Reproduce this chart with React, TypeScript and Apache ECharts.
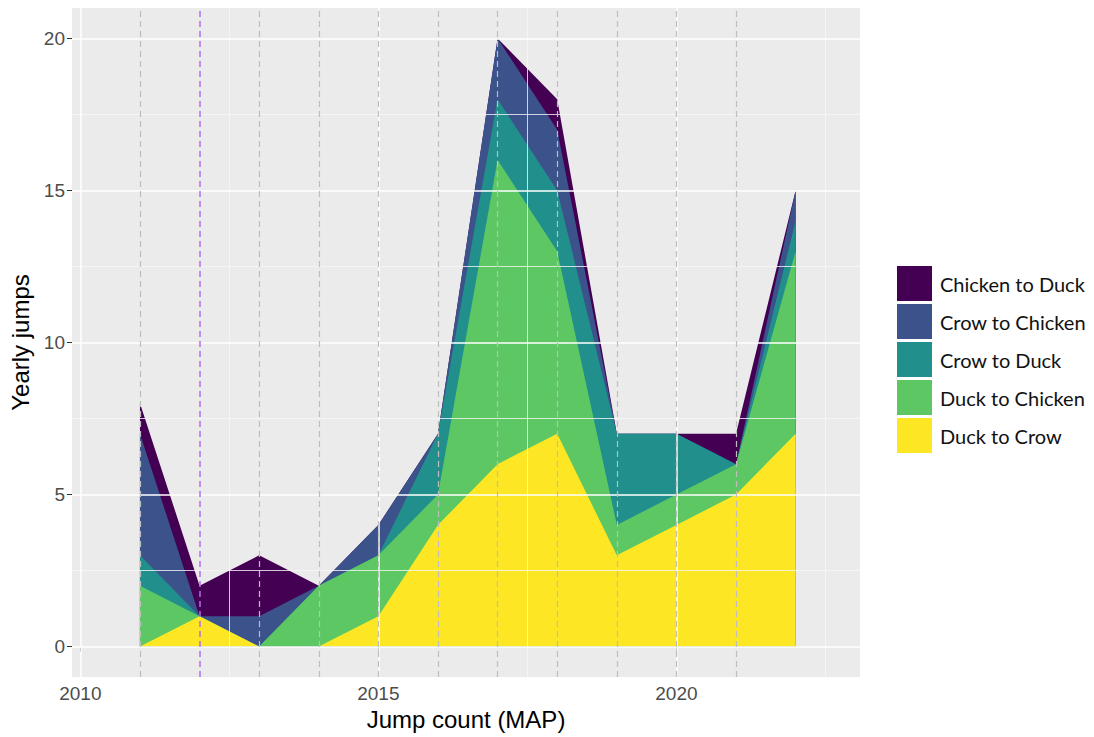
import React, { useEffect, useRef } from "react";
import * as echarts from "echarts";

const years = [2011, 2012, 2013, 2014, 2015, 2016, 2017, 2018, 2019, 2020, 2021, 2022];
const duckToCrow = [0, 1, 0, 0, 1, 4, 6, 7, 3, 4, 5, 7];
const duckToChicken = [2, 0, 0, 2, 2, 1, 10, 6, 1, 1, 1, 6];
const crowToDuck = [1, 0, 0, 0, 0, 2, 2, 2, 3, 2, 0, 1];
const crowToChicken = [4, 0, 1, 0, 1, 0, 2, 2, 0, 0, 0, 1];
const chickenToDuck = [1, 1, 2, 0, 0, 0, 0, 1, 0, 0, 1, 0];

// bottom-to-top stacking order
const seriesNames = ["Duck to Crow", "Duck to Chicken", "Crow to Duck", "Crow to Chicken", "Chicken to Duck"];
const seriesValues = [duckToCrow, duckToChicken, crowToDuck, crowToChicken, chickenToDuck];
const seriesColors = ["#FDE725", "#5DC863", "#21908C", "#3B528B", "#440154"];

const xMajor = [2010, 2015, 2020];
const xMinor = [2012.5, 2017.5, 2022.5];
const yMajor = [0, 5, 10, 15, 20];
const yMinor = [2.5, 7.5, 12.5, 17.5];
const dashedYears = [2011, 2013, 2014, 2015, 2016, 2017, 2018, 2019, 2020, 2021];
const highlightYear = [2012];

export default function App() {
  const ref = useRef<HTMLDivElement>(null);
  useEffect(() => {
    const chart = echarts.init(ref.current!, null, { renderer: "svg" });
    const tickFont = "'Liberation Sans', Arial, sans-serif";

    // cumulative stacks: layer i top = sum of layers 0..i
    const cumulative = seriesValues.map((_, i) =>
      years.map((_, j) => {
        let s = 0;
        for (let k = 0; k <= i; k++) s += seriesValues[k][j];
        return s;
      })
    );
    // draw top layer first so lower layers paint over it
    const areaSeries = seriesNames
      .map((name, i) => ({
        name,
        type: "line",
        z: 2,
        showSymbol: false,
        symbol: "none",
        lineStyle: { width: 0 },
        itemStyle: { color: seriesColors[i] },
        areaStyle: { color: seriesColors[i], opacity: 1, origin: 0 },
        data: years.map((y, j) => [y, cumulative[i][j]]),
      }))
      .reverse();

    const option: any = {
      animation: false,
      backgroundColor: "#ffffff",
      grid: {
        left: 72,
        top: 8,
        width: 788,
        height: 669,
        show: true,
        backgroundColor: "#EBEBEB",
        borderWidth: 0,
      },
      legend: {
        orient: "vertical",
        left: 897,
        top: 266,
        padding: 0,
        itemWidth: 35,
        itemHeight: 35,
        itemGap: 3,
        icon: "rect",
        data: ["Chicken to Duck", "Crow to Chicken", "Crow to Duck", "Duck to Chicken", "Duck to Crow"],
        textStyle: { fontFamily: "Lato, 'Open Sans', sans-serif", fontSize: 20, color: "#111", padding: [0, 0, 0, 3] },
      },
      xAxis: {
        type: "value",
        min: 2009.86,
        max: 2023.08,
        name: "Jump count (MAP)",
        nameLocation: "middle",
        nameGap: 30,
        nameTextStyle: { fontFamily: tickFont, fontSize: 24, color: "#000" },
        axisLine: { show: false },
        axisTick: { show: true, length: 5, customValues: xMajor, lineStyle: { color: "#333", width: 1 } },
        axisLabel: {
          customValues: xMajor,
          formatter: (v: number) => String(v),
          fontFamily: tickFont,
          fontSize: 19,
          color: "#4D4D4D",
          margin: 7,
        },
        splitLine: { show: false },
      },
      yAxis: {
        type: "value",
        min: -1,
        max: 21,
        name: "Yearly jumps",
        nameLocation: "middle",
        nameGap: 32,
        nameTextStyle: { fontFamily: tickFont, fontSize: 24, color: "#000" },
        axisLine: { show: false },
        axisTick: { show: true, length: 5, customValues: yMajor, lineStyle: { color: "#333", width: 1 } },
        axisLabel: {
          customValues: yMajor,
          formatter: (v: number) => String(v),
          fontFamily: tickFont,
          fontSize: 19,
          color: "#4D4D4D",
          margin: 7,
        },
        splitLine: { show: false },
      },
      series: [
        {
          name: "grid",
          type: "line",
          data: [],
          z: 1,
          silent: true,
          markLine: {
            silent: true,
            symbol: "none",
            label: { show: false },
            data: [
              ...xMinor.map((v) => ({ xAxis: v, lineStyle: { color: "#F7F7F7", width: 0.8, type: "solid" } })),
              ...yMinor.map((v) => ({ yAxis: v, lineStyle: { color: "#F7F7F7", width: 0.8, type: "solid" } })),
              ...xMajor.map((v) => ({ xAxis: v, lineStyle: { color: "#FFFFFF", width: 1.5, type: "solid" } })),
              ...yMajor.map((v) => ({ yAxis: v, lineStyle: { color: "#FFFFFF", width: 1.5, type: "solid" } })),
            ],
          },
        },
        ...areaSeries,
        {
          name: "vlines",
          type: "line",
          data: [],
          z: 3,
          silent: true,
          markLine: {
            silent: true,
            symbol: "none",
            label: { show: false },
            data: [
              ...dashedYears.map((v) => ({ xAxis: v, lineStyle: { color: "#BDBDBD", width: 1.2, type: [6, 4] } })),
              ...highlightYear.map((v) => ({ xAxis: v, lineStyle: { color: "#B86BEE", width: 1.5, type: [6, 4] } })),
            ],
          },
        },
      ],
    };
    chart.setOption(option);
    return () => chart.dispose();
  }, []);
  return (
    <div
      ref={ref}
      style={{ position: "fixed", left: 0, top: 0, width: 1094, height: 737, background: "#fff" }}
    />
  );
}
